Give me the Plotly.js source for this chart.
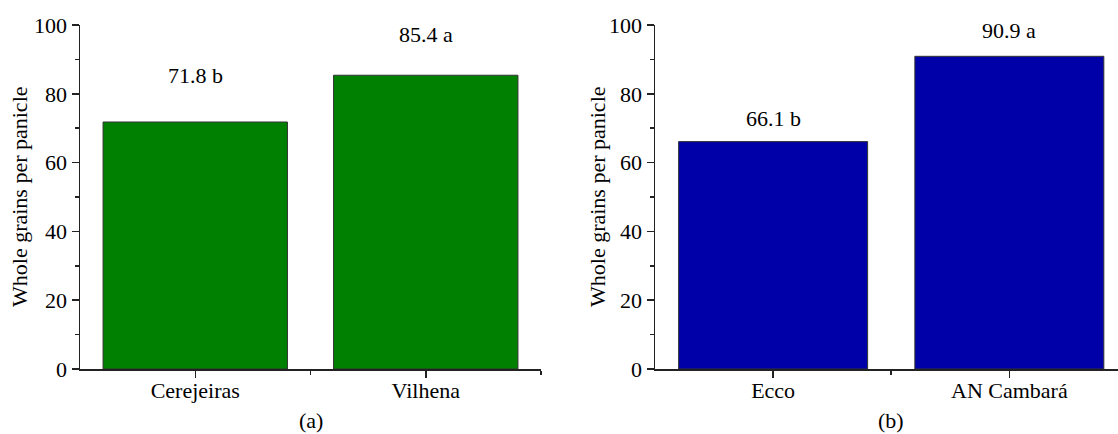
<!DOCTYPE html>
<html>
<head>
<meta charset="utf-8">
<script src="https://cdn.plot.ly/plotly-3.0.1.min.js"></script>
<style>html,body{margin:0;padding:0;background:#fff;}#chart{width:1118px;height:434px;}</style>
</head>
<body>
<div id="chart"></div>
<script>
// Data
const locations = ["Cerejeiras", "Vilhena"];
const locationValues = [71.8, 85.4];
const locationLetters = ["b", "a"];

const cultivars = ["Ecco", "AN Cambará"];
const cultivarValues = [66.1, 90.9];
const cultivarLetters = ["b", "a"];

const yTitle = "Whole grains per panicle";
const panelLabels = ["(a)", "(b)"];

const FONT = "Liberation Serif, Times New Roman, serif";
const W = 1118, H = 434;
const PLOT_TOP = 25, PLOT_BOTTOM = 369;
const pyPaper = px => (PLOT_BOTTOM - px) / (PLOT_BOTTOM - PLOT_TOP);

const idx = arr => arr.map((_, i) => i);

const traces = [
  {
    type: "bar", x: idx(locations), y: locationValues, width: 0.8,
    marker: {color: "#008000", line: {color: "#333333", width: 1}},
    xaxis: "x", yaxis: "y", hoverinfo: "x+y", showlegend: false
  },
  {
    type: "bar", x: idx(cultivars), y: cultivarValues, width: 0.8,
    marker: {color: "#0000A8", line: {color: "#333333", width: 1}},
    xaxis: "x2", yaxis: "y2", hoverinfo: "x+y", showlegend: false
  }
];

function xAxis(domain, range, labels, anchor) {
  return {
    anchor: anchor, domain: domain, range: range, type: "linear",
    tickvals: idx(labels), ticktext: labels,
    ticks: "outside", ticklen: 7, tickwidth: 1.5, tickcolor: "#222",
    ticklabelstandoff: -6,
    minor: {tickvals: [0.5, 1.5], ticks: "outside", ticklen: 4, tickwidth: 1.5, tickcolor: "#222", showgrid: false},
    showline: true, linecolor: "#222", linewidth: 1.5,
    showgrid: false, zeroline: false, fixedrange: true,
    tickfont: {family: FONT, size: 22, color: "#000"}
  };
}
function yAxis(anchor) {
  return {
    anchor: anchor, range: [0, 100], dtick: 20, tick0: 0,
    ticks: "outside", ticklen: 7, tickwidth: 1.5, tickcolor: "#222",
    minor: {dtick: 10, tick0: 0, ticks: "outside", ticklen: 4, tickwidth: 1.5, tickcolor: "#222", showgrid: false},
    showline: true, linecolor: "#222", linewidth: 1.5,
    showgrid: false, zeroline: false, fixedrange: true,
    tickfont: {family: FONT, size: 22, color: "#000"}
  };
}

const annFont = {family: FONT, size: 22, color: "#000"};
const annotations = [
  {xref: "x", yref: "y", x: 0, y: 85.3, text: locationValues[0].toFixed(1) + " " + locationLetters[0]},
  {xref: "x", yref: "y", x: 1, y: 97.2, text: locationValues[1].toFixed(1) + " " + locationLetters[1]},
  {xref: "x2", yref: "y2", x: 0, y: 72.7, text: cultivarValues[0].toFixed(1) + " " + cultivarLetters[0]},
  {xref: "x2", yref: "y2", x: 1, y: 98.5, text: cultivarValues[1].toFixed(1) + " " + cultivarLetters[1]},
  {xref: "x", yref: "paper", x: 0.5, y: pyPaper(420), text: panelLabels[0]},
  {xref: "x2", yref: "paper", x: 0.5, y: pyPaper(420), text: panelLabels[1]},
  {xref: "paper", yref: "paper", x: 19 / W, y: 0.5, textangle: -90, text: yTitle},
  {xref: "paper", yref: "paper", x: 597 / W, y: 0.5, textangle: -90, text: yTitle}
].map(a => Object.assign({showarrow: false, font: annFont, xanchor: "center", yanchor: "middle"}, a));

const layout = {
  width: W, height: H,
  margin: {l: 0, r: 0, t: PLOT_TOP, b: H - PLOT_BOTTOM},
  paper_bgcolor: "#fff", plot_bgcolor: "#fff",
  font: {family: FONT, color: "#000"},
  showlegend: false,
  xaxis: xAxis([80 / W, 541 / W], [-0.5, 1.5], locations, "y"),
  yaxis: yAxis("x"),
  xaxis2: xAxis([655 / W, 1], [-0.5, 1.46], cultivars, "y2"),
  yaxis2: yAxis("x2"),
  annotations: annotations
};

Plotly.newPlot("chart", traces, layout, {displayModeBar: false, staticPlot: true});
</script>
</body>
</html>
